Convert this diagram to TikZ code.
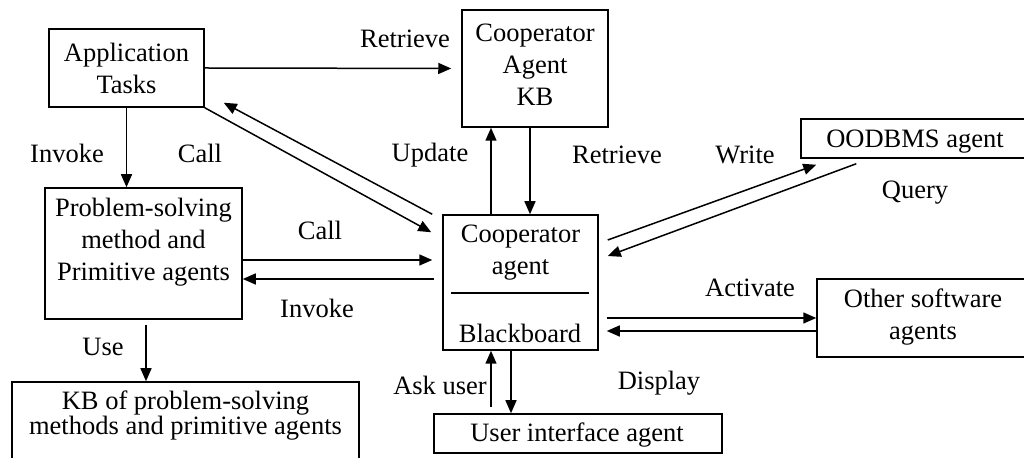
\documentclass[tikz,border=0pt]{standalone}
\usepackage{fontspec}
\setmainfont{Liberation Serif}
\usetikzlibrary{calc,arrows.meta}
\begin{document}
\begin{tikzpicture}[x=0.5pt,y=-0.5pt,
  font=\fontsize{13.25pt}{16pt}\selectfont,
  box/.style={draw, line width=0.75pt, inner sep=0pt},
  lbl/.style={inner sep=0pt},
  arr/.style={line width=0.75pt, -{Triangle[length=6.5pt,width=5.5pt]}},
  ln/.style={line width=0.75pt}]
\useasboundingbox (0,0) rectangle (1024,458);
\clip (0,0) rectangle (1024,458);

% boxes
\node[box, minimum width=77.5pt, minimum height=39pt, align=center] (app) at (126.5,68) {Application\\Tasks};
\node[box, minimum width=73pt, minimum height=58.5pt] (kb) at (535,68.5) {};
\node[lbl, align=center] (kbtext) at (535,64.5) {Cooperator\\Agent\\KB};
\node[box, minimum width=124.5pt, minimum height=19.5pt] (oodb) at (925.5,138.5) {};
\node[lbl] (oodbtext) at (915,142) {OODBMS agent};
\node[box, minimum width=98.5pt, minimum height=65.5pt] (ps) at (143.5,253.5) {};
\node[lbl, align=center] (pstext) at (143.5,242.5) {Problem-solving\\method and\\Primitive agents};
\node[box, minimum width=77.5pt, minimum height=67.5pt] (coop) at (520.5,282.5) {};
\node[lbl, align=center] (cooptext) at (520.5,253) {Cooperator\\agent};
\node[lbl] (bbtext) at (520,333) {Blackboard};
\draw[ln] ($(coop.west)+(9,10.5)$) -- ($(coop.east)+(-10,10.5)$);
\node[box, minimum width=116.5pt, minimum height=39pt] (other) at (933.5,318) {};
\node[lbl, align=center] (othertext) at (923,317) {Other software\\agents};
\node[box, minimum width=144pt, minimum height=19.5pt] (ui) at (578,433.5) {};
\node[lbl] (uitext) at (577,435) {User interface agent};
\node[box, minimum width=173.5pt, minimum height=44pt] (kbps) at (185.5,426) {};
\node[lbl, align=center, font=\fontsize{13.25pt}{12.25pt}\selectfont] (kbpstext) at (185.5,415.5) {KB of problem-solving\\methods and primitive agents};

% connectors
\draw[arr, shorten >=5pt] (app.east) -- (kb.west);
\draw[arr] (app.south east) -- ($(coop.north west)+(-11,18)$);
\draw[arr] ($(coop.north west)+(-10,0)$) -- ($(app.south east)+(19,-5)$);
\draw[arr] (app.south) -- (app.south |- ps.north);
\draw[arr] ($(ps.east)+(0,6.5)$) -- ($(coop.west)+(-10,-22.5)$);
\draw[arr] ($(coop.west)+(-8,-3.5)$) -- ($(ps.east)+(0,25.5)$);
\coordinate (usetop) at ($(ps.south)+(2.5,5)$);
\draw[arr] (usetop) -- (usetop |- kbps.north);
\coordinate (upd) at ($(coop.north)+(-29.5,0)$);
\draw[arr] (upd) -- (upd |- kb.south);
\coordinate (ret) at ($(kb.south)+(-5,0)$);
\draw[arr] (ret) -- (ret |- coop.north);
\draw[arr] ($(coop.east)+(9,-42.5)$) -- ($(oodb.south west)+(16,6)$);
\draw[arr] ($(oodb.south west)+(56,5)$) -- ($(coop.east)+(9,-26.5)$);
\draw[arr] ($(coop.east)+(8,35.5)$) -- (other.west);
\draw[arr] ($(other.west)+(0,13)$) -- ($(coop.east)+(8,48.5)$);
\coordinate (ask) at ($(ui.north)+(-87,-6)$);
\draw[arr] (ask) -- (ask |- coop.south);
\coordinate (disp) at ($(coop.south)+(-9.5,0)$);
\draw[arr] (disp) -- (disp |- ui.north);

% labels
\node[lbl] (lretr1) at (405,39) {Retrieve};
\node[lbl] (linv1) at (67,153) {Invoke};
\node[lbl] (lcall1) at (200,153) {Call};
\node[lbl] (lupd) at (430,155) {Update};
\node[lbl] (lretr2) at (617,155) {Retrieve};
\node[lbl] (lwrite) at (745,155) {Write};
\node[lbl] (lquery) at (915,193) {Query};
\node[lbl] (lcall2) at (320,230) {Call};
\node[lbl] (linv2) at (317,308) {Invoke};
\node[lbl] (lact) at (750,288) {Activate};
\node[lbl] (luse) at (103,347) {Use};
\node[lbl] (lask) at (440,385) {Ask user};
\node[lbl] (ldisp) at (659,383) {Display};
\end{tikzpicture}
\end{document}
